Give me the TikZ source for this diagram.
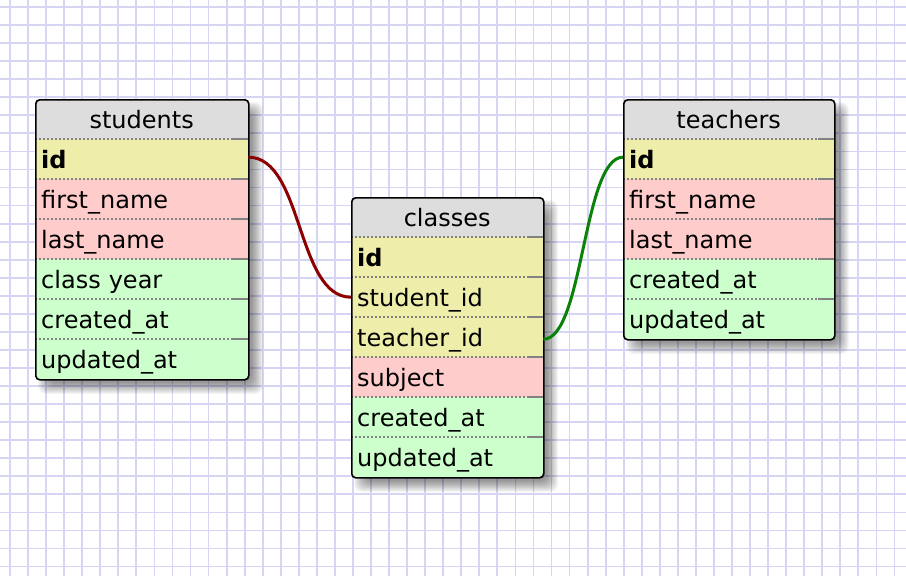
\documentclass[tikz,border=0pt]{standalone}
\usepackage{fontspec}
\setmainfont{DejaVu Sans}
\definecolor{hdr}{RGB}{221,221,221}
\definecolor{yel}{RGB}{238,238,170}
\definecolor{pnk}{RGB}{255,204,204}
\definecolor{grn}{RGB}{204,255,204}
\definecolor{gridc}{RGB}{214,214,244}
\definecolor{sepc}{RGB}{130,130,130}
\definecolor{fkred}{RGB}{140,0,0}
\definecolor{fkgreen}{RGB}{10,130,10}
\tikzset{
  gridline/.style={draw=gridc, line width=1.8pt},
  frame/.style={anchor=north west, inner sep=0, rounded corners=4pt},
  frameline/.style={frame, draw=black, line width=1.6pt},
  shadowlayer/.style={fill=black, fill opacity=0.04, rounded corners=8pt},
  row/.style={anchor=north west, minimum height=40pt, inner xsep=6pt, inner ysep=0pt,
    text height=19pt, text depth=1pt, align=left, font=\fontsize{24}{28}\selectfont},
  hrow/.style={row, fill=hdr, align=center},
  sw/.style={text width=201pt},
  cw/.style={text width=180pt},
  tw/.style={text width=199pt},
  sepdot/.style={draw=sepc, line width=2pt, dash pattern=on 2pt off 2pt},
  sepsolid/.style={draw=sepc, line width=2pt},
  fk/.style={line width=3pt},
}
\newcommand{\rowsep}[1]{%
  \draw[sepdot] (#1.north west) -- ([xshift=-16pt]#1.north east);
  \draw[sepsolid] ([xshift=-16pt]#1.north east) -- (#1.north east);}
\newcommand{\tblshadow}[4]{%
  \foreach \k in {0,...,11} {
    \fill[shadowlayer] (#1+3+\k,#2+3+\k) rectangle (#3+15-\k,#4+15-\k);
  }}
\begin{document}
\begin{tikzpicture}[x=1pt,y=-1pt]
\useasboundingbox (0,0) rectangle (906,576);
\fill[white] (0,0) rectangle (906,576);
% grid
\foreach \i in {0,...,50} { \draw[gridline] (10+18.05*\i,0) -- (10+18.05*\i,576); }
\foreach \j in {0,...,32} { \draw[gridline] (0,7+18.05*\j) -- (906,7+18.05*\j); }

% shadows
\tblshadow{35}{99}{248}{379}
\tblshadow{351}{197}{543}{477}
\tblshadow{623}{99}{834}{339}

% ---------- students ----------
\begin{scope}
\clip[rounded corners=4pt] (35,99) rectangle (248,379);
\node[hrow, sw] (s-h) at (35,99) {students};
\node[row, sw, fill=yel] (s-id) at (35,139) {\textbf{id}};
\node[row, sw, fill=pnk] (s-fn) at (35,179) {first\_name};
\node[row, sw, fill=pnk] (s-ln) at (35,219) {last\_name};
\node[row, sw, fill=grn] (s-cy) at (35,259) {class year};
\node[row, sw, fill=grn] (s-ca) at (35,299) {created\_at};
\node[row, sw, fill=grn] (s-ua) at (35,339) {updated\_at};
\rowsep{s-id}\rowsep{s-fn}\rowsep{s-ln}\rowsep{s-cy}\rowsep{s-ca}\rowsep{s-ua}
\end{scope}
\node[frameline, minimum width=213pt, minimum height=280pt] (students) at (35,99) {};

% ---------- classes ----------
\begin{scope}
\clip[rounded corners=4pt] (351,197) rectangle (543,477);
\node[hrow, cw] (c-h) at (351,197) {classes};
\node[row, cw, fill=yel] (c-id) at (351,237) {\textbf{id}};
\node[row, cw, fill=yel] (c-st) at (351,277) {student\_id};
\node[row, cw, fill=yel] (c-te) at (351,317) {teacher\_id};
\node[row, cw, fill=pnk] (c-su) at (351,357) {subject};
\node[row, cw, fill=grn] (c-ca) at (351,397) {created\_at};
\node[row, cw, fill=grn] (c-ua) at (351,437) {updated\_at};
\rowsep{c-id}\rowsep{c-st}\rowsep{c-te}\rowsep{c-su}\rowsep{c-ca}\rowsep{c-ua}
\end{scope}
\node[frameline, minimum width=192pt, minimum height=280pt] (classes) at (351,197) {};

% ---------- teachers ----------
\begin{scope}
\clip[rounded corners=4pt] (623,99) rectangle (834,339);
\node[hrow, tw] (t-h) at (623,99) {teachers};
\node[row, tw, fill=yel] (t-id) at (623,139) {\textbf{id}};
\node[row, tw, fill=pnk] (t-fn) at (623,179) {first\_name};
\node[row, tw, fill=pnk] (t-ln) at (623,219) {last\_name};
\node[row, tw, fill=grn] (t-ca) at (623,259) {created\_at};
\node[row, tw, fill=grn] (t-ua) at (623,299) {updated\_at};
\rowsep{t-id}\rowsep{t-fn}\rowsep{t-ln}\rowsep{t-ca}\rowsep{t-ua}
\end{scope}
\node[frameline, minimum width=211pt, minimum height=240pt] (teachers) at (623,99) {};

% ---------- connectors ----------
\draw[fk, fkred] ([yshift=2pt]s-id.east) .. controls +(55,0) and +(-55,0) .. (c-st.west);
\draw[fk, fkgreen] ([yshift=-2pt]c-te.east) .. controls +(40,0) and +(-40,0) .. ([yshift=2pt]t-id.west);
\end{tikzpicture}
\end{document}
